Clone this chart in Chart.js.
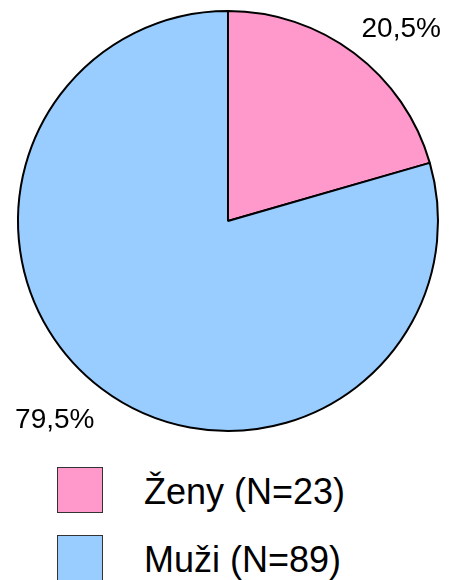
<!DOCTYPE html>
<html>
<head>
<meta charset="utf-8">
<script src="https://cdn.jsdelivr.net/npm/chart.js@4/dist/chart.umd.min.js"></script>
<style>
  body { margin: 0; background: #fff; }
  #wrap { position: absolute; left: 0; top: 0; width: 449px; height: 450px; }
  #legend { position: absolute; left: 57px; top: 467px; font-family: "Liberation Sans", Arial, sans-serif; }
  .row { display: flex; align-items: center; height: 46px; margin-bottom: 22px; }
  .box { width: 44px; height: 44px; border: 1px solid #333; }
  .txt { margin-left: 41px; font-size: 36px; line-height: 46px; position: relative; top: 2px; color: #000; }
</style>
</head>
<body>
<div id="wrap"><canvas id="chPie"></canvas></div>
<div id="legend"></div>
<script>
// data
var labels = ['Ženy (N=23)', 'Muži (N=89)'];
var counts = [23, 89];
var pctLabels = ['20,5%', '79,5%'];
var colors = ['#FF99CC', '#99CCFF'];

// percent labels outside the slices, corner anchored like the office chart
var outsideLabels = {
  id: 'outsideLabels',
  afterDatasetsDraw: function (chart) {
    var ctx = chart.ctx;
    var meta = chart.getDatasetMeta(0);
    ctx.save();
    ctx.font = '28px "Liberation Sans", Arial, sans-serif';
    ctx.fillStyle = '#000';
    meta.data.forEach(function (arc, i) {
      var mid = (arc.startAngle + arc.endAngle) / 2;
      var r = arc.outerRadius + 12;
      var px = arc.x + Math.cos(mid) * r;
      var py = arc.y + Math.sin(mid) * r;
      var below = Math.sin(mid) >= 0;
      ctx.textAlign = Math.cos(mid) >= 0 ? 'left' : 'right';
      ctx.textBaseline = below ? 'top' : 'bottom';
      ctx.fillText(pctLabels[i], px, below ? py + 8 : py);
    });
    ctx.restore();
  }
};

var chPie = document.getElementById('chPie');
if (chPie) {
  new Chart(chPie, {
    type: 'pie',
    data: {
      labels: labels,
      datasets: [{
        data: counts,
        backgroundColor: colors,
        borderColor: '#000',
        borderWidth: 2
      }]
    },
    options: {
      responsive: true,
      maintainAspectRatio: false,
      animation: false,
      layout: { padding: { left: 17, right: 10, top: 10, bottom: 18 } },
      plugins: {
        legend: { display: false },
        tooltip: { enabled: false }
      }
    },
    plugins: [outsideLabels]
  });
}

// legend
var legend = document.getElementById('legend');
labels.forEach(function (l, i) {
  var row = document.createElement('div');
  row.className = 'row';
  row.innerHTML = '<div class="box" style="background:' + colors[i] + '"></div><span class="txt">' + l + '</span>';
  legend.appendChild(row);
});
</script>
</body>
</html>
